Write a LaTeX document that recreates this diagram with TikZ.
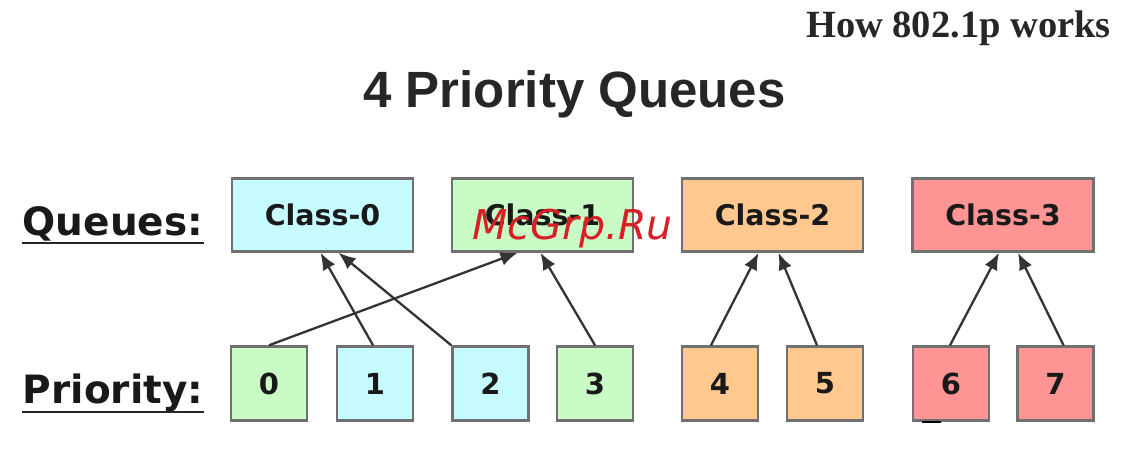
\documentclass[tikz,border=0pt]{standalone}
\usepackage{fontspec}
\setmainfont{Liberation Sans}
\newfontfamily\serifb{Liberation Serif}[BoldFont=* Bold]
\newfontfamily\dejav{DejaVu Sans}
\usetikzlibrary{calc,arrows.meta}
\definecolor{cyanq}{HTML}{C6FBFF}
\definecolor{greenq}{HTML}{C8FCC4}
\definecolor{orangeq}{HTML}{FFC88F}
\definecolor{redq}{HTML}{FF9494}
\definecolor{edgeq}{HTML}{707070}
\tikzset{
  x=1pt,y=-1pt,
  queuebox/.style={draw=edgeq,line width=2.5pt,minimum width=181pt,minimum height=73pt,inner sep=0pt,font=\dejav\bfseries\fontsize{28.5}{30}\selectfont,text=black!90},
  prio/.style={draw=edgeq,line width=2.5pt,minimum width=76pt,minimum height=74pt,inner sep=0pt,font=\dejav\bfseries\fontsize{29}{30}\selectfont,text=black!90},
  link/.style={draw=black!80,line width=2.3pt,-{Latex[length=17pt,width=14pt]}},
  heading/.style={inner sep=0pt,anchor=base,font=\dejav\bfseries\fontsize{39}{42}\selectfont,text=black!90},
}
\begin{document}
\begin{tikzpicture}
\useasboundingbox (0,0) rectangle (1134,448);
\node[inner sep=0pt,font=\serifb\bfseries\fontsize{38.5}{40}\selectfont,text=black!85] (hdr) at (958.5,28) {How 802.1p works};
\node[inner sep=0pt,font=\bfseries\fontsize{51}{54}\selectfont,text=black!85] (ttl) at (574.5,94) {4 Priority Queues};
\node[heading] (lq) at (113,235) {Queues:};
\node[heading] (lp) at (113,403) {Priority:};
\draw[black!85,line width=2.5pt] (22,243) -- (204,243);
\draw[black!85,line width=2.5pt] (22,412) -- (204,412);
\node[queuebox,fill=cyanq] (c0) at (322.5,215) {Class-0};
\node[queuebox,fill=greenq] (c1) at (542.5,215) {Class-1};
\node[queuebox,fill=orangeq] (c2) at (772.5,215) {Class-2};
\node[queuebox,fill=redq] (c3) at (1003,215) {Class-3};
\node[prio,fill=greenq] (p0) at (269,383.5) {0};
\node[prio,fill=cyanq] (p1) at (375,383.5) {1};
\node[prio,fill=cyanq] (p2) at (490.5,383.5) {2};
\node[prio,fill=greenq] (p3) at (595,383.5) {3};
\node[prio,fill=orangeq] (p4) at (720,383.5) {4};
\node[prio,fill=orangeq] (p5) at (825,383.5) {5};
\node[prio,fill=redq] (p6) at (951,383.5) {6};
\node[prio,fill=redq] (p7) at (1055.5,383.5) {7};
\draw[link] (p0.north) -- ($(c1.south)+(-25,0)$);
\draw[link] ($(p1.north)+(-2,0)$) -- ($(c0.south)+(-2,0)$);
\draw[link] (p2.north west) -- ($(c0.south)+(16,0)$);
\draw[link] (p3.north) -- ($(c1.south)+(-2,0)$);
\draw[link] ($(p4.north)+(-9,0)$) -- ($(c2.south)+(-14,0)$);
\draw[link] ($(p5.north)+(-8,0)$) -- ($(c2.south)+(6,0)$);
\draw[link] ($(p6.north)+(-1,0)$) -- ($(c3.south)+(-4,0)$);
\draw[link] ($(p7.north)+(8,0)$) -- ($(c3.south)+(15,0)$);
\draw[black,line width=2pt] ($(p6.south west)+(10,0)$) -- ($(p6.south west)+(29,0)$);
\node[inner sep=0pt,font=\dejav\itshape\fontsize{41}{44}\selectfont,text={rgb,255:red,214;green,32;blue,38}] (wm) at (572.5,229) {McGrp.Ru};
\end{tikzpicture}
\end{document}
